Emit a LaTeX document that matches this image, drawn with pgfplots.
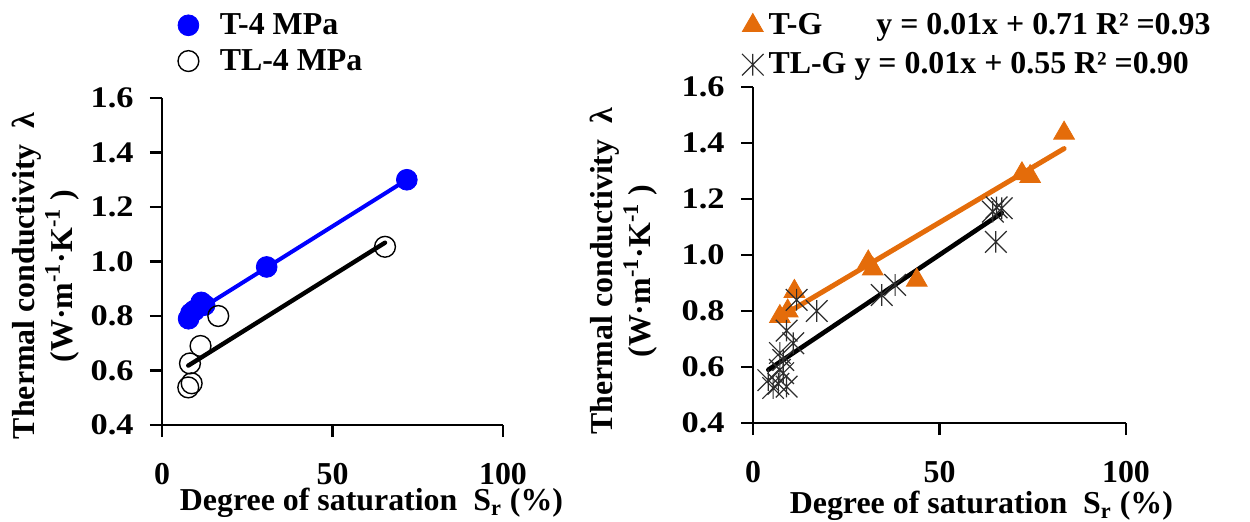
\documentclass[border=0pt]{standalone}
\usepackage{fontspec}
\setmainfont{Liberation Serif}
\newfontfamily\ytfont[FakeStretch=1.15]{Liberation Serif}
\usepackage{pgfplots}
\pgfplotsset{compat=1.18}
\definecolor{tgorange}{RGB}{228,108,10}
\definecolor{starcol}{RGB}{45,45,45}
\pgfdeclareplotmark{xstar}{%
 \pgfpathmoveto{\pgfqpoint{-\pgfplotmarksize}{-\pgfplotmarksize}}%
 \pgfpathlineto{\pgfqpoint{\pgfplotmarksize}{\pgfplotmarksize}}%
 \pgfpathmoveto{\pgfqpoint{-\pgfplotmarksize}{\pgfplotmarksize}}%
 \pgfpathlineto{\pgfqpoint{\pgfplotmarksize}{-\pgfplotmarksize}}%
 \pgfpathmoveto{\pgfqpoint{0pt}{-\pgfplotmarksize}}%
 \pgfpathlineto{\pgfqpoint{0pt}{\pgfplotmarksize}}%
 \pgfusepathqstroke}
\pgfplotsset{
 myax/.style={
  scale only axis, anchor=south west, clip=false,
  axis x line*=bottom, axis y line*=left,
  axis line style={line width=1.3bp, black},
  tick style={line width=1.3bp, black},
  tick align=outside, major tick length=6bp,
  xmin=0, xmax=100, ymin=0.4, ymax=1.6,
  xtick={0,50,100}, xticklabels={0,50,100},
  ytick={0.4,0.6,0.8,1.0,1.2,1.4,1.6},
  yticklabels={0.4,0.6,0.8,1.0,1.2,1.4,1.6},
  xticklabel style={font=\fontsize{16}{19}\selectfont\bfseries, anchor=north, inner sep=0pt, yshift=-13bp},
  yticklabel style={font=\fontsize{15}{18}\selectfont\ytfont\bfseries, anchor=east, inner sep=0pt, xshift=-8bp},
  label style={font=\fontsize{16}{19}\selectfont\bfseries},
  legend style={draw=none, fill=none, inner sep=0pt, outer sep=0pt, anchor=north west,
    font=\fontsize{16}{19}\selectfont\bfseries, nodes={inner sep=0pt}},
  legend cell align=left,
 },
 legimg/.style={legend image code/.code={\draw[##1] plot coordinates {(0bp,0bp)};}},
}
\begin{document}
\begin{tikzpicture}
\path[use as bounding box] (0,0) rectangle (625bp,261bp);
% ---------- left panel ----------
\begin{axis}[myax, at={(81bp,48.5bp)}, width=170.5bp, height=163.5bp,
  ylabel={Thermal conductivity\ \ λ\\(W·m\textsuperscript{-1}·K\textsuperscript{-1} )},
  ylabel style={align=center, at={(axis description cs:-0.341,0.456)}, anchor=center},
  xlabel={Degree of saturation\ \ S\textsubscript{r} (\%)},
  xlabel style={at={(axis description cs:0.032,-0.26)}, anchor=base west},
  legend style={at={(axis description cs:0.047,1.259)}, row sep=5.9bp},
]
\addplot[blue, line width=2bp, line cap=round, forget plot] coordinates {(8,0.80) (71.8,1.30)};
\addplot[black, line width=2.2bp, line cap=round, forget plot] coordinates {(7.7,0.618) (65.4,1.069)};
\addplot[only marks, mark=*, mark size=5.2bp, color=blue, legimg] coordinates {
 (7.8,0.79) (8.5,0.81) (9.5,0.82) (11.5,0.85) (12.5,0.84) (30.7,0.98) (71.8,1.30)};
\addlegendentry{\hspace*{10.5bp}T-4 MPa}
\addplot[only marks, mark=o, mark size=5.2bp, black, mark options={line width=0.7bp}, legimg] coordinates {
 (7.7,0.538) (8.7,0.553) (8.2,0.626) (11.3,0.69) (16.5,0.80) (65.4,1.054)};
\addlegendentry{\hspace*{10.5bp}TL-4 MPa}
\end{axis}
% ---------- right panel ----------
\begin{axis}[myax, at={(376.5bp,49.5bp)}, width=186.5bp, height=168bp,
  ylabel={Thermal conductivity\ \ λ\\(W·m\textsuperscript{-1}·K\textsuperscript{-1} )},
  ylabel style={align=center, at={(axis description cs:-0.346,0.452)}, anchor=center},
  xlabel={Degree of saturation\ \ S\textsubscript{r} (\%)},
  xlabel style={at={(axis description cs:0.080,-0.268)}, anchor=base west},
  legend style={at={(axis description cs:-0.0295,1.219)}, row sep=7.5bp},
]
\addplot[only marks, mark=triangle*, mark size=6bp, color=tgorange, legimg] coordinates {
 (7.2,0.78) (9.3,0.80) (11.1,0.87) (30.9,0.975) (32.1,0.95) (43.9,0.91)
 (72.1,1.29) (74.3,1.28) (83.4,1.435)};
\addlegendentry{\hspace*{2.5bp}T-G\hspace*{27bp}y = 0.01x + 0.71 R² =0.93}
\addplot[only marks, mark=xstar, mark size=5.4bp, color=starcol, mark options={line width=0.6bp}, legimg] coordinates {
 (4.1,0.553) (5.4,0.525) (6.8,0.54) (7.2,0.59) (7.2,0.65) (8.1,0.578) (8.1,0.625) (9.0,0.53)
 (9.0,0.73) (10.8,0.685) (11.7,0.84) (17.1,0.80) (34.5,0.857) (38.1,0.893)
 (64.3,1.155) (65.3,1.17) (66.7,1.167) (65.1,1.047)};
\addlegendentry{\hspace*{2.5bp}TL-G y = 0.01x + 0.55 R² =0.90}
\addplot[tgorange, line width=2.5bp, line cap=round, forget plot] coordinates {(6.2,0.77) (83.4,1.38)};
\addplot[black, line width=2.3bp, line cap=round, forget plot] coordinates {(4.1,0.59) (66.7,1.15)};
\end{axis}
\end{tikzpicture}
\end{document}
